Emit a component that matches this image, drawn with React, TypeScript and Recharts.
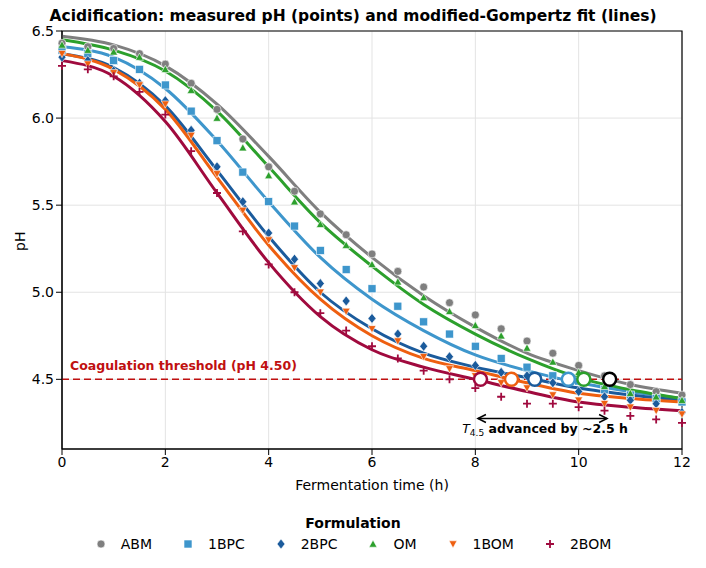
import React from "react";
import {
  ComposedChart,
  Line,
  Scatter,
  XAxis,
  YAxis,
  CartesianGrid,
  ReferenceLine,
  ReferenceArea,
  ReferenceDot,
} from "recharts";

const hours = [0, 0.5, 1, 1.5, 2, 2.5, 3, 3.5, 4, 4.5, 5, 5.5, 6, 6.5, 7, 7.5, 8, 8.5, 9, 9.5, 10, 10.5, 11, 11.5, 12];
const fitHours = [0, 1, 2, 3, 4, 5, 6, 7, 8, 9, 10, 11, 12];

const abmPts = [6.43, 6.41, 6.4, 6.37, 6.31, 6.2, 6.05, 5.88, 5.72, 5.58, 5.45, 5.33, 5.22, 5.12, 5.03, 4.94, 4.87, 4.79, 4.72, 4.65, 4.58, 4.52, 4.47, 4.43, 4.41];
const bpc1Pts = [6.39, 6.37, 6.33, 6.28, 6.19, 6.04, 5.87, 5.69, 5.52, 5.38, 5.24, 5.13, 5.02, 4.92, 4.83, 4.76, 4.69, 4.62, 4.57, 4.52, 4.49, 4.44, 4.41, 4.39, 4.37];
const bpc2Pts = [6.35, 6.33, 6.27, 6.2, 6.1, 5.93, 5.72, 5.52, 5.34, 5.19, 5.05, 4.95, 4.85, 4.76, 4.69, 4.63, 4.58, 4.54, 4.52, 4.48, 4.43, 4.4, 4.38, 4.36, 4.31];
const omPts = [6.42, 6.39, 6.38, 6.35, 6.28, 6.16, 6.0, 5.83, 5.67, 5.52, 5.39, 5.27, 5.16, 5.06, 4.97, 4.89, 4.81, 4.75, 4.68, 4.6, 4.54, 4.46, 4.42, 4.4, 4.38];
const bom1Pts = [6.37, 6.31, 6.26, 6.19, 6.08, 5.9, 5.68, 5.47, 5.3, 5.14, 5.0, 4.89, 4.79, 4.72, 4.63, 4.56, 4.52, 4.48, 4.45, 4.41, 4.38, 4.36, 4.34, 4.32, 4.3];
const bom2Pts = [6.3, 6.28, 6.24, 6.15, 6.02, 5.81, 5.57, 5.35, 5.16, 5.0, 4.88, 4.78, 4.69, 4.62, 4.55, 4.5, 4.45, 4.4, 4.36, 4.36, 4.34, 4.32, 4.29, 4.27, 4.25];

const abmFit = [6.47, 6.42, 6.3, 6.08, 5.78, 5.46, 5.2, 4.98, 4.8, 4.65, 4.55, 4.47, 4.42];
const bpc1Fit = [6.41, 6.35, 6.17, 5.87, 5.52, 5.2, 4.96, 4.78, 4.64, 4.55, 4.48, 4.43, 4.39];
const bpc2Fit = [6.37, 6.29, 6.07, 5.7, 5.32, 5.0, 4.79, 4.65, 4.57, 4.51, 4.45, 4.41, 4.38];
const omFit = [6.45, 6.39, 6.27, 6.04, 5.72, 5.4, 5.15, 4.93, 4.76, 4.62, 4.51, 4.44, 4.39];
const bom1Fit = [6.37, 6.28, 6.05, 5.66, 5.27, 4.96, 4.75, 4.62, 4.55, 4.48, 4.42, 4.39, 4.37];
const bom2Fit = [6.33, 6.24, 5.98, 5.57, 5.17, 4.86, 4.67, 4.57, 4.5, 4.43, 4.37, 4.34, 4.32];

const names = ["ABM", "1BPC", "2BPC", "OM", "1BOM", "2BOM"];
const colors = ["#7f7f7f", "#3e96cc", "#1b5b9c", "#2ca02c", "#ee5f10", "#a00a3e"];
const markers = ["circle", "square", "diamond", "triangle", "down", "plus"];
const allPts = [abmPts, bpc1Pts, bpc2Pts, omPts, bom1Pts, bom2Pts];
const allFits = [abmFit, bpc1Fit, bpc2Fit, omFit, bom1Fit, bom2Fit];

// time to reach pH 4.5, and ring colours
const t45 = [8.1, 8.7, 9.15, 9.8, 10.1, 10.6];
const t45Colors = ["#a00a3e", "#ee5f10", "#1b5b9c", "#3e96cc", "#2ca02c", "#000000"];

const xTicks = [0, 2, 4, 6, 8, 10, 12];
const yTicks = [4.5, 5.0, 5.5, 6.0, 6.5];

function Marker({ kind, cx, cy, color, s = 4 }: any) {
  const st = { fill: color, stroke: "#fff", strokeWidth: 0.6 };
  if (kind === "circle") return <circle cx={cx} cy={cy} r={s} {...st} />;
  if (kind === "square") return <rect x={cx - s} y={cy - s} width={2 * s} height={2 * s} {...st} />;
  if (kind === "diamond")
    return <path d={`M${cx},${cy - s - 1}L${cx + s},${cy}L${cx},${cy + s + 1}L${cx - s},${cy}Z`} {...st} />;
  if (kind === "triangle")
    return <path d={`M${cx},${cy - s}L${cx + s},${cy + s * 0.8}L${cx - s},${cy + s * 0.8}Z`} {...st} />;
  if (kind === "down")
    return <path d={`M${cx},${cy + s}L${cx + s},${cy - s * 0.8}L${cx - s},${cy - s * 0.8}Z`} {...st} />;
  return (
    <path d={`M${cx - s},${cy}H${cx + s}M${cx},${cy - s}V${cy + s}`} stroke={color} strokeWidth={1.8} fill="none" />
  );
}

const font = "DejaVu Sans, sans-serif";

export default function App() {
  return (
    <div style={{ position: "relative", width: 690, height: 552, fontFamily: font }}>
      <div style={{ position: "absolute", top: -1, left: -8, width: 706, textAlign: "center", fontWeight: "bold", fontSize: 15.5 }}>
        Acidification: measured pH (points) and modified-Gompertz fit (lines)
      </div>
      <ComposedChart
        width={690}
        height={500}
        margin={{ top: 23, right: 16, left: 0, bottom: 0 }}
        style={{ position: "absolute", top: 0, left: 0 }}
      >
        <CartesianGrid stroke="#e3e3e3" />
        <XAxis
          type="number"
          dataKey="x"
          domain={[0, 12]}
          ticks={xTicks}
          height={59}
          tick={{ fill: "#000", fontSize: 14, fontFamily: font }}
          tickLine={{ stroke: "#000" }}
          axisLine={{ stroke: "#000" }}
          label={{ value: "Fermentation time (h)", position: "insideBottom", offset: 18, fill: "#000", fontSize: 14, fontFamily: font }}
        />
        <YAxis
          type="number"
          dataKey="y"
          domain={[4.1, 6.5]}
          ticks={yTicks}
          width={54}
          tickFormatter={(v) => v.toFixed(1)}
          tick={{ fill: "#000", fontSize: 14, fontFamily: font }}
          tickLine={{ stroke: "#000" }}
          axisLine={{ stroke: "#000" }}
        />
        <ReferenceArea x1={0} x2={12} y1={4.1} y2={6.5} fill="none" stroke="#000" strokeWidth={1.2} />
        <ReferenceLine y={4.5} stroke="#c01010" strokeWidth={1.5} strokeDasharray="7 4" />
        <ReferenceDot
          x={0}
          y={4.5}
          shape={(p: any) => (
            <text x={p.cx + 8} y={p.cy - 9} fill="#c01010" fontSize={12.5} fontWeight="bold" fontFamily={font}>
              Coagulation threshold (pH 4.50)
            </text>
          )}
        />
        {allFits.map((f, i) => (
          <Line
            key={"l" + i}
            data={fitHours.map((x, j) => ({ x, y: f[j] }))}
            dataKey="y"
            type="monotone"
            stroke={colors[i]}
            strokeWidth={3}
            dot={false}
            activeDot={false}
            isAnimationActive={false}
          />
        ))}
        {allPts.map((p, i) => (
          <Scatter
            key={"s" + i}
            data={hours.map((x, j) => ({ x, y: p[j] }))}
            isAnimationActive={false}
            shape={(props: any) => <Marker kind={markers[i]} cx={props.cx} cy={props.cy} color={colors[i]} />}
          />
        ))}
        {t45.map((t, i) => (
          <ReferenceDot key={"t" + i} x={t} y={4.5} r={6.5} fill="#fff" stroke={t45Colors[i]} strokeWidth={2.5} />
        ))}
        <ReferenceLine
          segment={[{ x: 8.05, y: 4.275 }, { x: 10.55, y: 4.275 }]}
          stroke="#000"
          strokeWidth={1.5}
        />
        <ReferenceDot
          x={8.05}
          y={4.275}
          shape={(p: any) => <path d={`M${p.cx + 8},${p.cy - 4}L${p.cx},${p.cy}L${p.cx + 8},${p.cy + 4}`} stroke="#000" strokeWidth={1.5} fill="none" />}
        />
        <ReferenceDot
          x={10.55}
          y={4.275}
          shape={(p: any) => <path d={`M${p.cx - 8},${p.cy - 4}L${p.cx},${p.cy}L${p.cx - 8},${p.cy + 4}`} stroke="#000" strokeWidth={1.5} fill="none" />}
        />
        <ReferenceDot
          x={9.35}
          y={4.215}
          shape={(p: any) => (
            <text x={p.cx} y={p.cy + 4} textAnchor="middle" fontSize={12.5} fontFamily={font}>
              <tspan fontStyle="italic">T</tspan>
              <tspan fontSize={9} dy={3}>4.5</tspan>
              <tspan dy={-3} fontWeight="bold"> advanced by ~2.5 h</tspan>
            </text>
          )}
        />
      </ComposedChart>
      <div style={{ position: "absolute", top: 233, left: 4, transform: "rotate(-90deg)", transformOrigin: "left top", fontSize: 14 }}>
        <span style={{ display: "inline-block", transform: "translateX(-10px)" }}>pH</span>
      </div>
      <div style={{ position: "absolute", top: 507, left: 0, width: 690, textAlign: "center", fontSize: 14, fontWeight: "bold" }}>
        Formulation
      </div>
      <div style={{ position: "absolute", top: 528, left: 0, width: 690, display: "flex", justifyContent: "center", gap: 30, fontSize: 14 }}>
        {names.map((n, i) => (
          <span key={n} style={{ display: "flex", alignItems: "center", gap: 14 }}>
            <svg width={12} height={12}>
              <Marker kind={markers[i]} cx={6} cy={6} color={colors[i]} />
            </svg>
            {n}
          </span>
        ))}
      </div>
    </div>
  );
}
